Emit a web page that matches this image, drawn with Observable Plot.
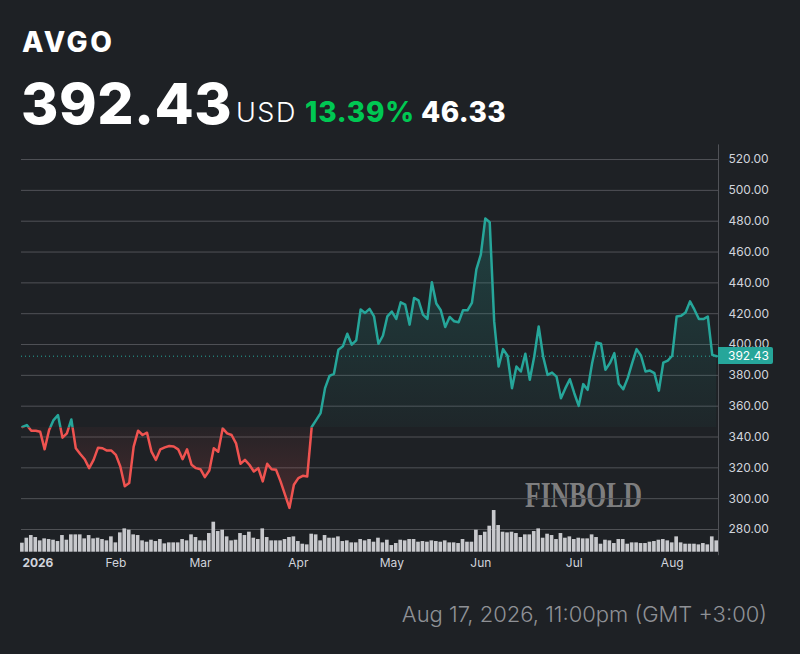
<!DOCTYPE html>
<html><head><meta charset="utf-8">
<script src="https://cdn.jsdelivr.net/npm/d3@7"></script>
<script src="https://cdn.jsdelivr.net/npm/@observablehq/plot@0.6"></script>
<style>
html,body{margin:0;padding:0;background:#1e2125;}
#page{position:relative;width:800px;height:654px;background:#1e2125;overflow:hidden;font-family:Inter,"Noto Sans",sans-serif;}
#page > svg, #page > div{position:absolute;left:0;}
</style></head><body><div id="page"></div>
<script>
// ---- data ----
const ticker = "AVGO";
const currency = "USD";
const lastPrice = 392.43;
const changeAbs = 46.33;
const changePct = 13.39;
const timestamp = "Aug 17, 2026, 11:00pm (GMT +3:00)";

const prices = [
 346.5,347.7,344.1,344.1,343.4,332.0,344.5,351.0,354.2,339.6,
 342.4,351.4,332.7,329.0,325.6,319.8,325.2,333.1,332.7,331.2,
 331.2,328.4,320.9,308.0,310.1,333.8,344.1,341.3,342.8,330.5,
 325.2,332.0,333.3,334.2,333.8,332.0,325.6,332.0,322.0,319.8,
 319.1,314.0,318.3,332.7,330.5,345.6,342.4,341.3,335.9,322.6,
 325.2,322.0,317.6,319.8,311.2,322.6,319.1,318.7,311.2,302.6,
 294.0,309.0,313.3,314.8,314.4,346.5,351.0,355.5,371.7,379.7,
 381.0,396.6,398.8,407.0,399.9,402.7,422.7,420.5,423.1,418.3,
 400.5,405.7,418.3,421.4,416.6,427.4,425.9,412.9,430.2,428.7,
 419.4,416.6,440.4,426.6,422.2,411.4,417.9,415.1,414.4,422.2,
 422.2,427.0,448.7,458.3,481.7,479.3,415.0,385.7,397.0,392.7,
 371.7,385.7,382.5,394.0,377.1,392.2,411.7,392.2,380.3,381.8,
 379.2,365.2,371.7,377.5,368.4,360.2,374.3,370.6,387.9,401.3,
 400.5,383.6,387.9,394.4,374.5,371.0,378.2,387.9,397.0,392.7,
 382.5,383.1,381.4,370.1,388.3,389.6,392.7,418.2,418.7,420.8,
 428.0,422.6,416.5,416.5,418.2,393.3,392.43
];
const volumes = [
 27,42,50,44,34,40,38,36,32,50, 36,52,52,52,40,50,40,42,38,34,
 46,28,58,70,66,52,50,34,30,36, 32,38,25,28,28,28,38,34,52,44,
 34,34,56,90,62,66,46,34,36,56, 50,60,42,38,70,44,34,34,34,38,
 44,46,32,24,22,54,52,34,50,42, 42,46,32,34,28,28,38,34,38,30,
 42,28,36,20,26,36,34,38,38,30, 32,30,34,32,30,34,28,28,26,38,
 30,30,66,50,60,78,125,80,60,58, 60,56,44,52,52,62,70,42,54,50,
 38,56,42,46,38,42,40,40,52,44, 24,36,34,26,38,38,24,28,28,26,
 26,30,32,36,38,34,28,46,28,24, 24,24,22,26,22,46,34
];
const yTicks = [280,300,320,340,360,380,400,420,440,460,480,500,520];
const monthIdx = [0,21,40,62,83,103,124,146];
const monthLabels = ["2026","Feb","Mar","Apr","May","Jun","Jul","Aug"];

// ---- build ----
const TEAL = "#26a69a", RED = "#ef5350", GRID = "#505257", TXT = "#d1d4dc";
const baseline = +(lastPrice - changeAbs).toFixed(2);
const data = prices.map((p, i) => ({i, p, v: volumes[i]}));
const months = monthIdx.map((i, k) => ({i, label: monthLabels[k]}));
const xDomain = [-0.2, prices.length - 0.6];
const page = document.getElementById("page");

// overlay text (header, watermark, footer)
const ns = "http://www.w3.org/2000/svg";
const over = document.createElementNS(ns, "svg");
over.setAttribute("width", 800); over.setAttribute("height", 654);
over.style.top = "0px";
over.innerHTML = `
 <text x="22" y="52" fill="#fff" font-family="Inter" font-weight="800" font-size="28" letter-spacing="2.5">${ticker}</text>
 <text x="21" y="123.5" fill="#fff" font-family="Inter" font-weight="800" font-size="57" letter-spacing="0.5">${lastPrice.toFixed(2)}</text>
 <text x="236" y="122" fill="#fff" font-family="Inter" font-weight="300" font-size="27" letter-spacing="1.5">${currency}</text>
 <text x="305" y="122" fill="#00c853" font-family="Inter" font-weight="800" font-size="28" letter-spacing="0.8">${changePct.toFixed(2)}%</text>
 <text x="421" y="122" fill="#fff" font-family="Inter" font-weight="800" font-size="28" letter-spacing="0.4">${changeAbs.toFixed(2)}</text>
 <text x="525" y="507" fill="#8c8c8c" fill-opacity="0.9" font-family="Liberation Serif" font-weight="bold" font-size="36" textLength="117" lengthAdjust="spacingAndGlyphs">FINBOLD</text>
 <text x="767" y="622" text-anchor="end" fill="#8f9196" font-family="Inter" font-weight="300" font-size="22">${timestamp}</text>`;
page.appendChild(over);

const plot = Plot.plot({
  width: 800, height: 440,
  marginLeft: 21, marginRight: 82, marginTop: 4.4, marginBottom: 24.8,
  x: {domain: xDomain, axis: null},
  y: {domain: [263, 529.5], axis: null},
  style: {background: "transparent", fontFamily: "Inter, sans-serif", fontSize: "12px", color: TXT, overflow: "visible"},
  marks: [
    Plot.ruleY(yTicks, {stroke: GRID, strokeWidth: 1}),
    Plot.ruleX([xDomain[1]], {stroke: GRID, strokeWidth: 1}),
    Plot.areaY(data, {x: "i", y1: baseline, y2: "p", fill: TEAL}),
    Plot.areaY(data, {x: "i", y1: baseline, y2: "p", fill: RED}),
    Plot.ruleY([lastPrice], {stroke: TEAL, strokeWidth: 1, strokeDasharray: "1,3"}),
    Plot.lineY(data, {x: "i", y: "p", stroke: TEAL, strokeWidth: 2.5}),
    Plot.lineY(data, {x: "i", y: "p", stroke: RED, strokeWidth: 2.5}),
    Plot.text(yTicks, {y: d => d, text: d => d.toFixed(2), frameAnchor: "right", dx: 10, textAnchor: "start", fill: TXT, fontSize: 12}),
    Plot.text(months.slice(0, 1), {x: "i", text: "label", frameAnchor: "bottom", dy: 11, textAnchor: "start", fontWeight: "bold", fill: TXT, fontSize: 12}),
    Plot.text(months.slice(1), {x: "i", text: "label", frameAnchor: "bottom", dy: 11, fill: TXT, fontSize: 12})
  ]
});
plot.style.top = "140px";
page.appendChild(plot);

// clipping + gradients so the series is teal above the start price and red below
const ys = plot.scale("y");
const yb = ys.apply(baseline);
const yTop = ys.apply(d3.max(prices)), yBot = ys.apply(d3.min(prices));
const defs = document.createElementNS(ns, "defs");
defs.innerHTML = `
 <clipPath id="clipAbove"><rect x="0" y="0" width="800" height="${yb}"/></clipPath>
 <clipPath id="clipBelow"><rect x="0" y="${yb}" width="800" height="${440 - yb}"/></clipPath>
 <linearGradient id="gTeal" gradientUnits="userSpaceOnUse" x1="0" x2="0" y1="${yTop}" y2="${yb}">
   <stop offset="0" stop-color="${TEAL}" stop-opacity="0.24"/><stop offset="1" stop-color="${TEAL}" stop-opacity="0.04"/></linearGradient>
 <linearGradient id="gRed" gradientUnits="userSpaceOnUse" x1="0" x2="0" y1="${yb}" y2="${yBot}">
   <stop offset="0" stop-color="${RED}" stop-opacity="0.04"/><stop offset="1" stop-color="${RED}" stop-opacity="0.2"/></linearGradient>`;
plot.insertBefore(defs, plot.firstChild);
const areas = plot.querySelectorAll('g[aria-label="area"]');
const lines = plot.querySelectorAll('g[aria-label="line"]');
[[areas[0], "clipAbove", "url(#gTeal)"], [areas[1], "clipBelow", "url(#gRed)"]].forEach(([g, c, f]) => {
  if (!g) return;
  g.setAttribute("clip-path", `url(#${c})`);
  g.setAttribute("fill", f);
  g.removeAttribute("fill-opacity");
  g.querySelectorAll("path").forEach(p => { p.setAttribute("fill", f); p.removeAttribute("fill-opacity"); });
});
if (lines[0]) lines[0].setAttribute("clip-path", "url(#clipAbove)");
if (lines[1]) lines[1].setAttribute("clip-path", "url(#clipBelow)");

// volume bars
const vol = Plot.plot({
  width: 800, height: 140,
  marginLeft: 21, marginRight: 82, marginTop: 11.7, marginBottom: 28.3,
  x: {domain: xDomain, axis: null},
  y: {domain: [0, 300], axis: null},
  style: {background: "transparent", overflow: "visible"},
  marks: [
    Plot.rectY(data, {x1: d => d.i - 0.41, x2: d => d.i + 0.41, y: "v", fill: "#c8c9cd"})
  ]
});
vol.style.top = "440px";
page.appendChild(vol);

// current price tag on the axis
const tag = document.createElement("div");
const yl = 140 + ys.apply(lastPrice);
tag.textContent = lastPrice.toFixed(2);
Object.assign(tag.style, {left: "718px", top: (yl - 8.5) + "px", width: "55px", height: "17px", background: TEAL,
  color: "#fff", fontSize: "12px", lineHeight: "17px", paddingLeft: "10px", boxSizing: "border-box", borderRadius: "0 2px 2px 0"});
page.appendChild(tag);
</script>
</body></html>
